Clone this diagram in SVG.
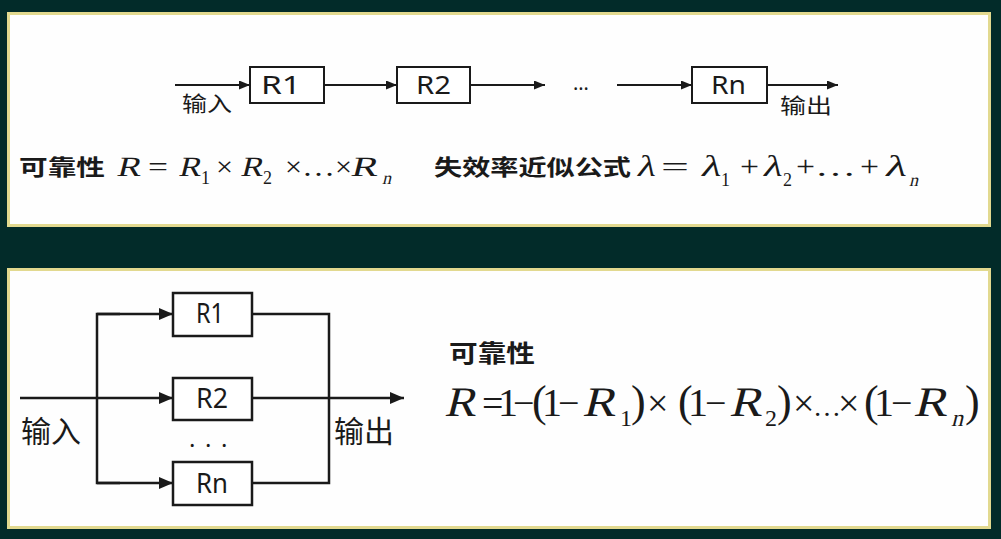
<svg xmlns="http://www.w3.org/2000/svg" width="1001" height="539" viewBox="0 0 1001 539">
<defs>
<style>
.panel{fill:#fefefe;stroke:#e2d98f;stroke-width:3}
.box{fill:#fff;stroke:#1a1a1a;stroke-width:2}
.box2{fill:#fff;stroke:#1a1a1a;stroke-width:2.5}
.ln{fill:none;stroke:#1a1a1a;stroke-width:2}
.ln2{fill:none;stroke:#1a1a1a;stroke-width:2.5}
.lbl{font-family:"Noto Sans","Noto Sans CJK SC",sans-serif;fill:#1a1a1a}
.cjk{font-family:"Noto Sans CJK SC","Noto Sans",sans-serif;fill:#1a1a1a}
.b{font-weight:bold}
.m{font-family:"Liberation Serif","Times New Roman",serif;fill:#1a1a1a;font-weight:normal;font-style:normal}
.t1{font-size:28px}
.t2{font-size:42px}
</style>
<marker id="ah" viewBox="0 0 11 9" refX="11" refY="4.5" markerWidth="11" markerHeight="9" markerUnits="userSpaceOnUse" orient="auto">
<path d="M0,0 L11,4.5 L0,9 Z" fill="#1a1a1a"/>
</marker>
<marker id="ah2" viewBox="0 0 14 12" refX="14" refY="6" markerWidth="14" markerHeight="12" markerUnits="userSpaceOnUse" orient="auto">
<path d="M0,0 L14,6 L0,12 Z" fill="#1a1a1a"/>
</marker>
</defs>
<rect width="1001" height="539" fill="#022b29"/>
<rect class="panel" x="8.5" y="13.5" width="981" height="212"/>
<rect class="panel" x="8.5" y="269.5" width="981" height="258"/>

<g id="connectors">
<line class="ln" x1="175" y1="85" x2="250" y2="85" marker-end="url(#ah)"/>
<line class="ln" x1="324" y1="85" x2="397" y2="85" marker-end="url(#ah)"/>
<line class="ln" x1="470" y1="85" x2="545" y2="85" marker-end="url(#ah)"/>
<line class="ln" x1="617" y1="85" x2="692" y2="85" marker-end="url(#ah)"/>
<line class="ln" x1="767" y1="85" x2="838" y2="85" marker-end="url(#ah)"/>
<line class="ln2" x1="20" y1="398" x2="173" y2="398" marker-end="url(#ah2)"/>
<polyline class="ln2" points="120,314 97,314 97,483 120,483"/>
<line class="ln2" x1="97" y1="314" x2="173" y2="314" marker-end="url(#ah2)"/>
<line class="ln2" x1="97" y1="483" x2="173" y2="483" marker-end="url(#ah2)"/>
<polyline class="ln2" points="252,314 329,314 329,483 252,483"/>
<line class="ln2" x1="252" y1="398" x2="404" y2="398" marker-end="url(#ah2)"/>
</g>

<g id="s-in"><text class="cjk" x="182" y="111" font-size="21" textLength="50" lengthAdjust="spacingAndGlyphs">输入</text></g>
<g id="s-r1"><rect class="box" x="250" y="67" width="74" height="36"/><text class="lbl" x="261" y="94" font-size="25" textLength="40" lengthAdjust="spacingAndGlyphs">R1</text></g>
<g id="s-r2"><rect class="box" x="397" y="67" width="73" height="36"/><text class="lbl" x="416" y="94" font-size="25" textLength="35" lengthAdjust="spacingAndGlyphs">R2</text></g>
<g id="s-dots"><text class="lbl" x="573" y="90" font-size="20">…</text></g>
<g id="s-rn"><rect class="box" x="692" y="67" width="75" height="36"/><text class="lbl" x="711" y="94" font-size="25" textLength="35" lengthAdjust="spacingAndGlyphs">Rn</text></g>
<g id="s-out"><text class="cjk" x="780" y="113" font-size="21" textLength="52" lengthAdjust="spacingAndGlyphs">输出</text></g>

<g id="series-formula">
<text class="cjk b" x="19" y="175" font-size="22" textLength="86" lengthAdjust="spacingAndGlyphs">可靠性</text>
<g transform="translate(116,176) skewX(-14) scale(1.3,1)"><text class="m t1">R</text></g>
<text class="m t1" x="148" y="176" textLength="20" lengthAdjust="spacingAndGlyphs">=</text>
<g transform="translate(178,176) skewX(-14) scale(1.2,1)"><text class="m t1">R</text></g>
<text class="m t1" x="216" y="176" textLength="17" lengthAdjust="spacingAndGlyphs">×</text>
<g transform="translate(240,176) skewX(-14) scale(1.2,1)"><text class="m t1">R</text></g>
<text class="m t1" x="285" y="176" textLength="17" lengthAdjust="spacingAndGlyphs">×</text>
<text class="m t1" x="302" y="176" textLength="33" lengthAdjust="spacingAndGlyphs">…</text>
<text class="m t1" x="335" y="176" textLength="17" lengthAdjust="spacingAndGlyphs">×</text>
<g transform="translate(350,176) skewX(-14) scale(1.45,1)"><text class="m t1">R</text></g>
<text class="m" font-size="18" y="184"><tspan x="201">1</tspan><tspan x="263">2</tspan></text>
<g transform="translate(382,184) skewX(-14)"><text class="m" font-size="18">n</text></g>

<text class="cjk b" x="434" y="175" font-size="22" textLength="197" lengthAdjust="spacingAndGlyphs">失效率近似公式</text>
<g transform="translate(636,176) skewX(-12) scale(1.3,1)"><text class="m" font-size="30">λ</text></g>
<text class="m t1" x="661" y="176" textLength="28" lengthAdjust="spacingAndGlyphs">=</text>
<g transform="translate(700,176) skewX(-12) scale(1.4,1)"><text class="m" font-size="30">λ</text></g>
<text class="m" font-size="30" x="740" y="176" textLength="19" lengthAdjust="spacingAndGlyphs">+</text>
<g transform="translate(762,176) skewX(-12) scale(1.35,1)"><text class="m" font-size="30">λ</text></g>
<text class="m" font-size="30" x="796" y="176" textLength="19" lengthAdjust="spacingAndGlyphs">+</text>
<text class="m t1" x="815" y="176" textLength="41" lengthAdjust="spacingAndGlyphs">…</text>
<text class="m" font-size="30" x="860" y="176" textLength="19" lengthAdjust="spacingAndGlyphs">+</text>
<g transform="translate(884,176) skewX(-12) scale(1.5,1)"><text class="m" font-size="30">λ</text></g>
<text class="m" font-size="18" y="186"><tspan x="721">1</tspan><tspan x="783">2</tspan></text>
<g transform="translate(909,186) skewX(-14)"><text class="m" font-size="18">n</text></g>
</g>

<g id="p-in"><text class="cjk" x="21" y="442" font-size="30">输入</text></g>
<g id="p-r1"><rect class="box2" x="173" y="293" width="79" height="43"/><text class="lbl" x="196" y="323" font-size="28" textLength="28" lengthAdjust="spacingAndGlyphs">R1</text></g>
<g id="p-r2"><rect class="box2" x="173" y="378" width="79" height="42"/><text class="lbl" x="196" y="408" font-size="28" textLength="32" lengthAdjust="spacingAndGlyphs">R2</text></g>
<g id="p-dots"><text class="lbl" font-size="24" y="447"><tspan x="189">.</tspan><tspan x="205">.</tspan><tspan x="221">.</tspan></text></g>
<g id="p-rn"><rect class="box2" x="173" y="462" width="79" height="43"/><text class="lbl" x="196" y="493" font-size="28" textLength="32" lengthAdjust="spacingAndGlyphs">Rn</text></g>
<g id="p-out"><text class="cjk" x="334" y="442" font-size="30">输出</text></g>

<g id="parallel-formula">
<text class="cjk b" x="449" y="362" font-size="24" textLength="86" lengthAdjust="spacingAndGlyphs">可靠性</text>
<g transform="translate(444,416) skewX(-14) scale(1.12,1)"><text class="m t2">R</text></g>
<g transform="translate(582,416) skewX(-14) scale(1.18,1)"><text class="m t2">R</text></g>
<g transform="translate(729,416) skewX(-14) scale(1.16,1)"><text class="m t2">R</text></g>
<g transform="translate(913,416) skewX(-14) scale(1.2,1)"><text class="m t2">R</text></g>
<text class="m" font-size="38" y="416"><tspan x="482">=</tspan><tspan x="513">−</tspan><tspan x="558">−</tspan><tspan x="647">×</tspan><tspan x="705">−</tspan><tspan x="793">×</tspan><tspan x="838">×</tspan><tspan x="891">−</tspan></text>
<text class="m" font-size="40" y="416"><tspan x="498">1</tspan><tspan x="542">1</tspan><tspan x="688">1</tspan><tspan x="874">1</tspan></text>
<text class="m" font-size="44" y="416"><tspan x="532">(</tspan><tspan x="631">)</tspan><tspan x="678">(</tspan><tspan x="777">)</tspan><tspan x="864">(</tspan><tspan x="965">)</tspan></text>
<text class="m" font-size="28" x="813" y="416">…</text>
<text class="m" font-size="24" y="426"><tspan x="620">1</tspan><tspan x="765">2</tspan></text>
<g transform="translate(951,426) skewX(-14)"><text class="m" font-size="24">n</text></g>
</g>
</svg>
